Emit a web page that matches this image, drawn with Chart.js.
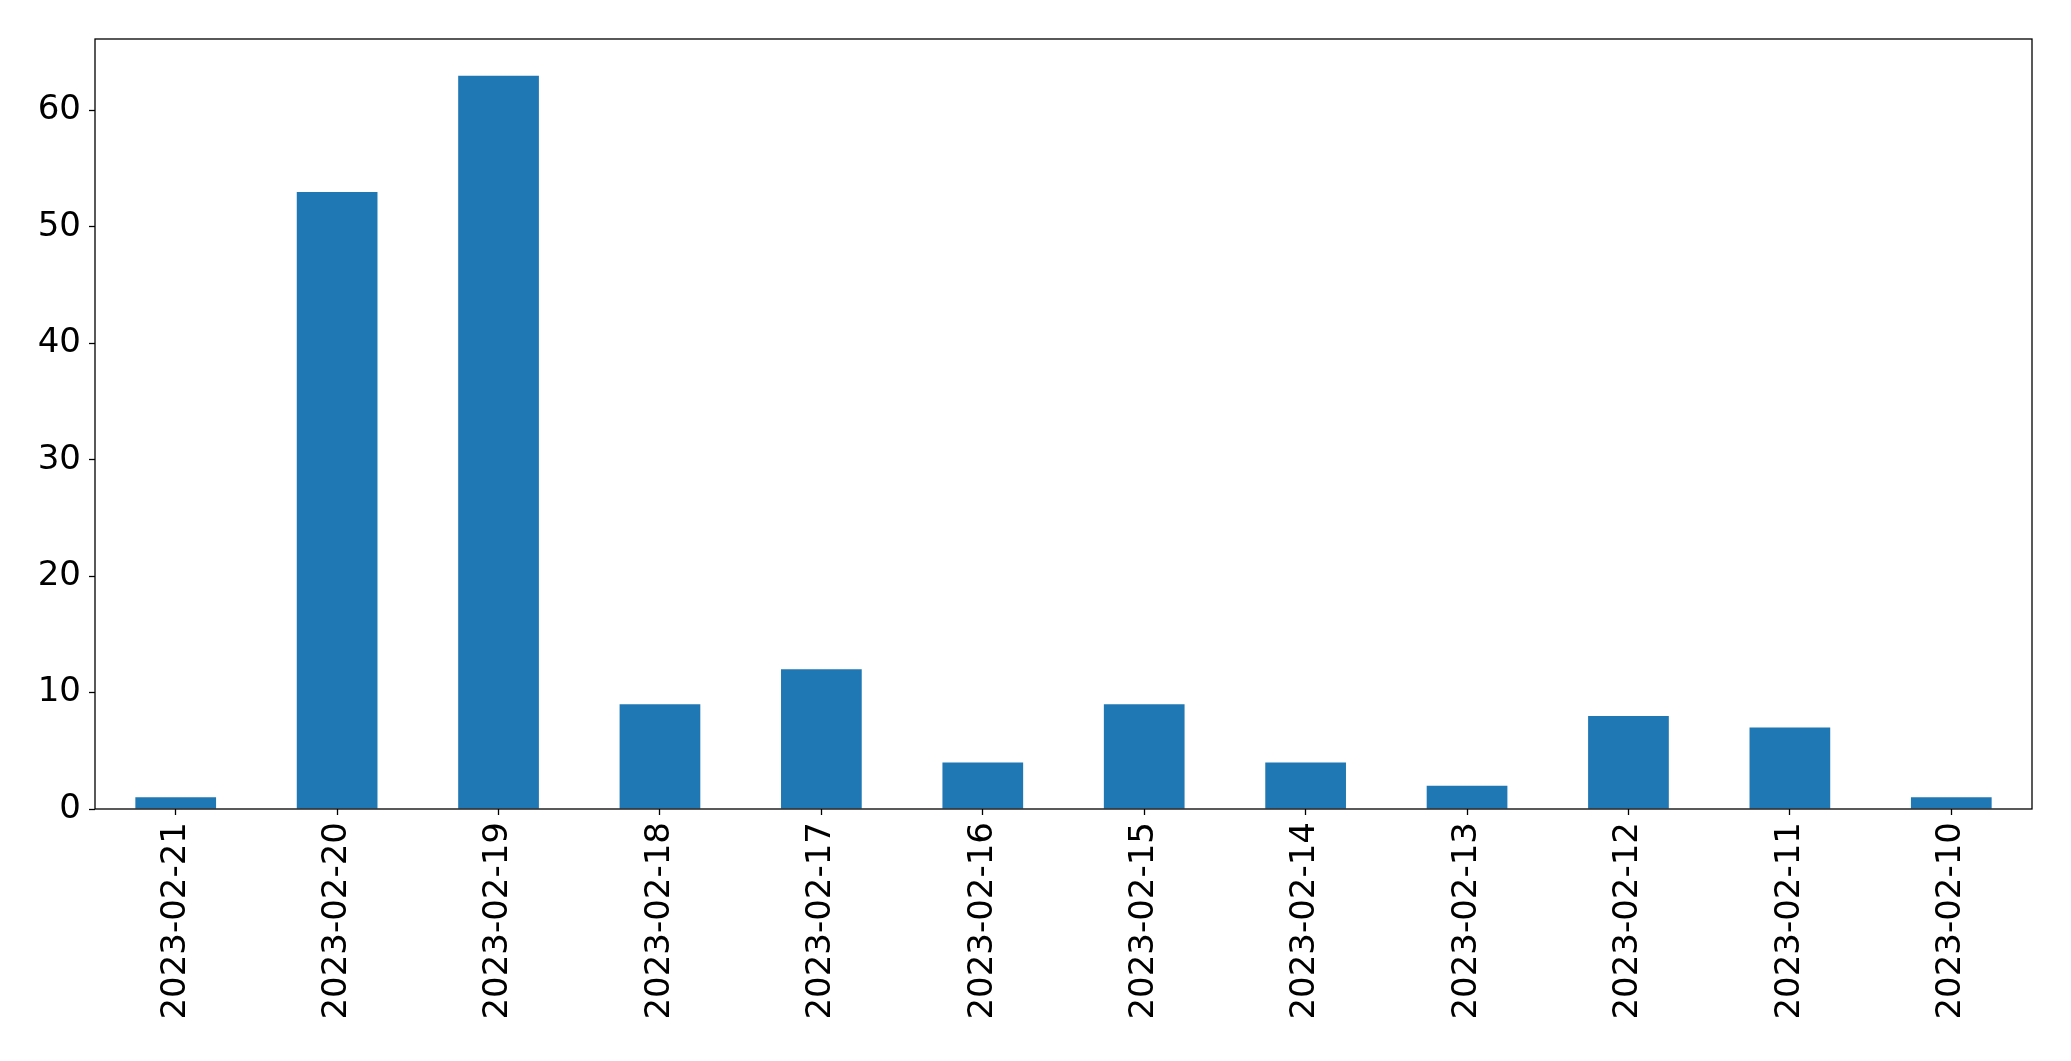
<!DOCTYPE html>
<html>
<head>
<meta charset="utf-8">
<script src="https://cdn.jsdelivr.net/npm/chart.js@4.4.1/dist/chart.umd.min.js"></script>
<style>
  html, body { margin: 0; padding: 0; background: #fff; }
  #wrap { width: 2071px; height: 1061px; }
</style>
</head>
<body>
<div id="wrap"><canvas id="chart" width="2071" height="1061"></canvas></div>
<script>
// dates and counts
const dates = ['2023-02-21', '2023-02-20', '2023-02-19', '2023-02-18', '2023-02-17', '2023-02-16',
  '2023-02-15', '2023-02-14', '2023-02-13', '2023-02-12', '2023-02-11', '2023-02-10'];
const counts = [1, 53, 63, 9, 12, 4, 9, 4, 2, 8, 7, 1];
const yTicks = [0, 10, 20, 30, 40, 50, 60];
const yMax = 66.15;

const FONT = { family: 'DejaVu Sans', size: 34 };

// draw the full box round the plot area like matplotlib
const frame = {
  id: 'frame',
  afterDraw(chart) {
    const a = chart.chartArea;
    const ctx = chart.ctx;
    ctx.save();
    ctx.strokeStyle = '#000';
    ctx.lineWidth = 1.3;
    ctx.strokeRect(a.left, a.top, a.right - a.left, a.bottom - a.top);
    ctx.restore();
  },
};

new Chart(document.getElementById('chart'), {
  type: 'bar',
  data: {
    labels: dates,
    datasets: [{ data: counts, backgroundColor: '#1f77b4', barPercentage: 0.5, categoryPercentage: 1 }],
  },
  options: {
    responsive: false,
    devicePixelRatio: 1,
    animation: false,
    layout: { padding: { top: 39, right: 39, left: 0, bottom: 0 } },
    plugins: { legend: { display: false }, tooltip: { enabled: false } },
    scales: {
      x: {
        offset: true,
        grid: { display: true, drawOnChartArea: false, offset: false, tickLength: 6, tickColor: '#000', tickWidth: 1.3 },
        border: { display: false },
        ticks: { color: '#000', font: FONT, minRotation: 90, maxRotation: 90, padding: 7, autoSkip: false },
        afterFit(scale) { scale.height = 252; },
      },
      y: {
        min: 0,
        max: yMax,
        grid: { display: true, drawOnChartArea: false, tickLength: 6, tickColor: '#000', tickWidth: 1.3 },
        border: { display: false },
        ticks: { color: '#000', font: FONT, padding: 8 },
        afterBuildTicks(scale) { scale.ticks = yTicks.map((v) => ({ value: v })); },
        afterFit(scale) { scale.width = 95; },
      },
    },
  },
  plugins: [frame],
});
</script>
</body>
</html>
